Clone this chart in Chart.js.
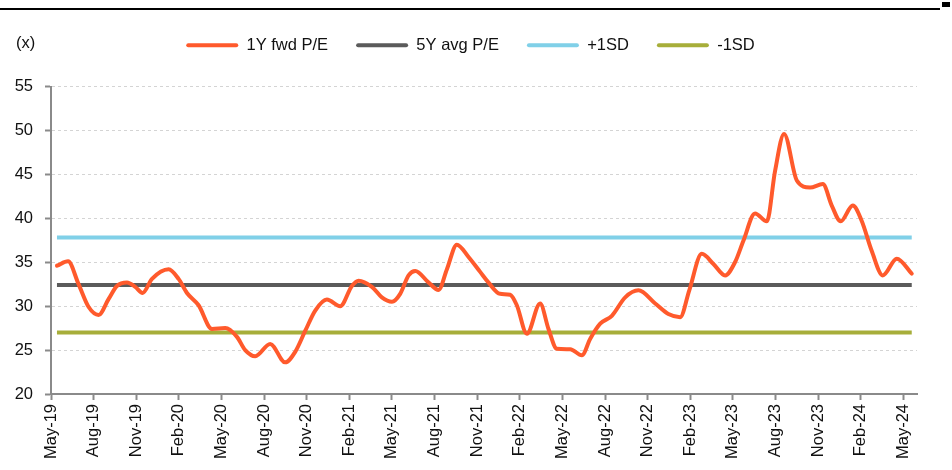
<!DOCTYPE html>
<html><head><meta charset="utf-8">
<script src="https://cdn.jsdelivr.net/npm/chart.js@4"></script>
<style>
html,body{margin:0;padding:0;background:#fff;}
#wrap{position:relative;width:952px;height:470px;overflow:hidden;}
canvas{position:absolute;left:0;top:0;}
#rule{position:absolute;left:0;top:8px;width:940px;height:2px;background:#000;}
#rulemark{position:absolute;left:942px;top:2px;width:8px;height:5px;background:#000;}
#unit{position:absolute;left:16px;top:33px;font:16.5px 'Liberation Sans',Arial,sans-serif;line-height:19px;color:#111;}
</style></head>
<body><div id="wrap"><canvas id="c" width="952" height="470"></canvas><div id="rule"></div><div id="rulemark"></div><div id="unit">(x)</div></div>
<script>
// ---- data ----
const tickLabels = ['May-19','Aug-19','Nov-19','Feb-20','May-20','Aug-20','Nov-20','Feb-21','May-21','Aug-21','Nov-21','Feb-22','May-22','Aug-22','Nov-22','Feb-23','May-23','Aug-23','Nov-23','Feb-24','May-24'];
const tickMonths = [0,3,6,9,12,15,18,21,24,27,30,33,36,39,42,45,48,51,54,57,60]; // months since May-19
const monthPos = [0.42,1.20,1.94,2.65,3.35,4.05,4.64,5.35,5.93,6.45,7.11,8.28,8.98,9.57,10.39,11.33,12.27,13.09,13.67,14.38,15.43,16.49,17.19,17.90,18.60,19.42,20.36,21.18,21.65,22.59,23.29,24.00,24.58,25.17,25.64,26.57,27.28,27.87,28.57,29.39,30.21,30.79,31.61,32.32,32.79,33.50,34.43,35.02,35.61,36.55,37.37,37.96,38.66,39.48,40.42,41.35,42.53,43.46,44.29,44.93,45.81,46.63,47.45,48.15,48.74,49.56,50.39,50.97,51.60,52.50,53.43,54.33,54.96,55.59,56.44,57.07,57.77,58.55,59.54,60.59];
const fwdPE = [34.6,35.1,32.5,29.9,29.0,30.8,32.3,32.7,32.2,31.5,33.1,34.2,33.1,31.5,30.1,27.4,27.5,26.5,25.0,24.3,25.7,23.6,24.8,27.2,29.5,30.75,30.0,32.3,32.9,32.2,31.0,30.5,31.4,33.5,34.0,32.7,31.85,34.2,37.0,35.6,33.9,32.7,31.4,31.3,30.1,26.85,30.3,27.4,25.15,25.1,24.4,26.3,28.0,28.9,31.0,31.8,30.3,29.1,28.75,31.8,35.95,34.8,33.5,35.0,37.45,40.55,39.65,45.4,49.6,44.3,43.5,43.9,41.45,39.65,41.45,39.7,36.3,33.5,35.4,33.7];
const avgPE = 32.4;
const plus1SD = 37.8;
const minus1SD = 27.0;
const seriesNames = ['1Y fwd P/E','5Y avg P/E','+1SD','-1SD'];
const yTicks = [20,25,30,35,40,45,50,55];

const FONT = "'Liberation Sans', Arial, sans-serif";
const first = monthPos[0], last = monthPos[monthPos.length-1];
const flat = v => [{x:first,y:v},{x:last,y:v}];

const legendGap = {
  id:'legendGap',
  beforeUpdate(chart){
    const lg = chart.legend;
    if (lg && !lg._patched){
      const orig = lg.fit;
      lg.fit = function(){ orig.call(this); this.height += 23; };
      lg._patched = true;
    }
  },
  afterLayout(chart){
    const lg = chart.legend;
    if (lg){ lg.left += 12; lg.right += 12; }
  }
};

new Chart(document.getElementById('c'), {
  type:'line',
  data:{
    datasets:[
      {label:seriesNames[0], data:monthPos.map((m,i)=>({x:m,y:fwdPE[i]})), borderColor:'#FF5A2C', backgroundColor:'#FF5A2C', borderWidth:4, pointRadius:0, tension:0.4, cubicInterpolationMode:'monotone', borderCapStyle:'round', borderJoinStyle:'round'},
      {label:seriesNames[1], data:flat(avgPE), borderColor:'#5B5B5B', backgroundColor:'#5B5B5B', borderWidth:4, pointRadius:0},
      {label:seriesNames[2], data:flat(plus1SD), borderColor:'#80D0E8', backgroundColor:'#80D0E8', borderWidth:4, pointRadius:0},
      {label:seriesNames[3], data:flat(minus1SD), borderColor:'#A7AE3A', backgroundColor:'#A7AE3A', borderWidth:4, pointRadius:0}
    ]
  },
  options:{
    responsive:false,
    animation:false,
    layout:{padding:{left:0,right:35,top:9,bottom:0}},
    plugins:{
      tooltip:{enabled:false},
      legend:{
        position:'top',
        labels:{
          font:{family:FONT,size:16.5},
          color:'#111',
          boxWidth:52, boxHeight:4, padding:28,
          generateLabels(chart){
            return chart.data.datasets.map((ds,i)=>({text:ds.label, fillStyle:ds.borderColor, strokeStyle:ds.borderColor, lineWidth:0, borderRadius:2, datasetIndex:i, hidden:false, fontColor:'#111'}));
          }
        }
      }
    },
    scales:{
      x:{
        type:'linear', min:0, max:60.96,
        afterBuildTicks(s){ s.ticks = tickMonths.map(v=>({value:v})); },
        afterFit(s){ s.height = 76; },
        ticks:{autoSkip:false, minRotation:90, maxRotation:90, padding:4, color:'#111', font:{family:FONT,size:16.5},
          callback(v){ const i = tickMonths.indexOf(v); return i>=0 ? tickLabels[i] : ''; }},
        grid:{drawOnChartArea:false, drawTicks:true, tickLength:6, color:'#8a8a8a', tickWidth:2},
        border:{display:true, color:'#8a8a8a', width:2}
      },
      y:{
        min:20, max:55,
        afterBuildTicks(s){ s.ticks = yTicks.map(v=>({value:v})); },
        afterFit(s){ s.width = 51; },
        ticks:{padding:12, color:'#111', font:{family:FONT,size:16.5}},
        grid:{color:'#d4d4d4', lineWidth:1, tickColor:'#8a8a8a', tickWidth:2, tickLength:6},
        border:{display:true, color:'#8a8a8a', width:2, dash:[3,3]}
      }
    }
  },
  plugins:[legendGap]
});
</script>
</body></html>
